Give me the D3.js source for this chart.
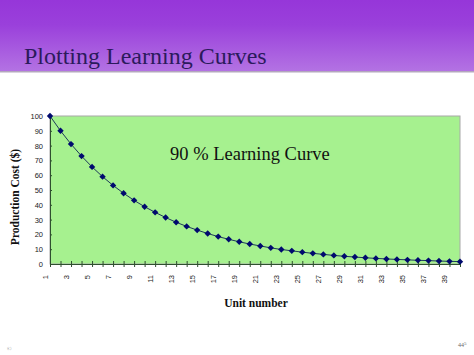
<!DOCTYPE html>
<html>
<head>
<meta charset="utf-8">
<script src="https://cdn.jsdelivr.net/npm/d3@7"></script>
<style>
body { margin: 0; background: #fff; }
svg { display: block; }
.serif { font-family: "Liberation Serif", "Times New Roman", "DejaVu Serif", serif; }
.sans { font-family: "Liberation Sans", Arial, sans-serif; }
</style>
</head>
<body>
<svg></svg>
<script>
var width = 474;
var height = 355;

// unit numbers and the cost
var units = d3.range(1, 41);
var cost = [100, 90, 81, 72.9, 65.6, 59.0, 53.1, 47.8, 43.0, 38.7,
            34.9, 31.4, 28.2, 25.4, 22.9, 20.6, 18.5, 16.7, 15.0, 13.5,
            12.2, 10.9, 9.8, 8.9, 8.0, 7.2, 6.5, 5.8, 5.2, 4.7,
            4.2, 3.8, 3.4, 3.1, 2.8, 2.5, 2.3, 2.0, 1.8, 1.6];
var yTicks = [0, 10, 20, 30, 40, 50, 60, 70, 80, 90, 100];
var xLabels = [1, 3, 5, 7, 9, 11, 13, 15, 17, 19, 21, 23, 25, 27, 29, 31, 33, 35, 37, 39];

var svg = d3.select('svg')
            .attr('width', width)
            .attr('height', height);

// slide header
var defs = svg.append('defs');
var grad = defs.append('linearGradient')
               .attr('id', 'hdr')
               .attr('x1', 0).attr('y1', 0).attr('x2', 0).attr('y2', 1);
grad.append('stop').attr('offset', '0%').attr('stop-color', '#9636d9');
grad.append('stop').attr('offset', '35%').attr('stop-color', '#9a40db');
grad.append('stop').attr('offset', '100%').attr('stop-color', '#b372e3');

svg.append('rect')
   .attr('x', 0).attr('y', 0)
   .attr('width', width).attr('height', 71)
   .attr('fill', 'url(#hdr)');
svg.append('rect')
   .attr('x', 0).attr('y', 71)
   .attr('width', width).attr('height', 1.5)
   .attr('fill', '#b3a7bd');

svg.append('text')
   .attr('class', 'serif')
   .attr('x', 24).attr('y', 64)
   .attr('font-size', 24)
   .attr('fill', '#2b1a5c')
   .text('Plotting Learning Curves');

// chart
var plotLeft = 50, plotRight = 460, plotTop = 116, plotBottom = 264;

var x = d3.scaleLinear()
          .domain([1, 40])
          .range([plotLeft, plotRight]);

var y = d3.scaleLinear()
          .domain([0, 100])
          .range([plotBottom, plotTop]);

svg.append('rect')
   .attr('x', plotLeft).attr('y', plotTop)
   .attr('width', plotRight - plotLeft).attr('height', plotBottom - plotTop)
   .attr('fill', '#a6f18f')
   .attr('stroke', '#a8a8a8')
   .attr('stroke-width', 1);

var yAxis = svg.append('g')
   .attr('transform', 'translate(' + plotLeft + ',0)')
   .call(d3.axisLeft(y).tickValues(yTicks).tickSizeInner(3).tickSizeOuter(0).tickPadding(4));
yAxis.select('.domain').attr('stroke', '#2f4f2f');
yAxis.selectAll('.tick line').attr('stroke', '#2f4f2f').attr('x2', 2);
yAxis.selectAll('text')
     .attr('class', 'sans')
     .attr('font-size', 7.5)
     .attr('fill', '#222');

var xAxis = svg.append('g')
   .attr('transform', 'translate(0,' + plotBottom + ')')
   .call(d3.axisBottom(x).tickValues(units).tickSizeInner(3).tickSizeOuter(0).tickFormat(''));
xAxis.select('.domain').attr('stroke', '#2f4f2f');
xAxis.selectAll('.tick line').attr('stroke', '#2f4f2f').attr('y1', -3);

svg.append('g')
   .selectAll('text')
   .data(xLabels)
   .enter()
   .append('text')
   .attr('class', 'sans')
   .attr('transform', d => 'translate(' + (x(d) - 5) + ',275) rotate(-90)')
   .attr('text-anchor', 'end')
   .attr('dy', '0.35em')
   .attr('font-size', 7.5)
   .attr('fill', '#222')
   .text(d => d);

var line = d3.line()
             .x((d, i) => x(units[i]))
             .y(d => y(d));

svg.append('path')
   .datum(cost)
   .attr('d', line)
   .attr('fill', 'none')
   .attr('stroke', '#1c3a5a')
   .attr('stroke-width', 1);

svg.append('g')
   .selectAll('path')
   .data(cost)
   .enter()
   .append('path')
   .attr('d', d3.symbol().type(d3.symbolDiamond2).size(26))
   .attr('transform', (d, i) => 'translate(' + x(units[i]) + ',' + y(d) + ')')
   .attr('fill', '#000a6e');

svg.append('text')
   .attr('class', 'serif')
   .attr('x', 170).attr('y', 160)
   .attr('font-size', 18.5)
   .attr('fill', '#111')
   .text('90 % Learning Curve');

svg.append('text')
   .attr('class', 'serif')
   .attr('x', 256).attr('y', 307)
   .attr('text-anchor', 'middle')
   .attr('font-weight', 'bold')
   .attr('font-size', 11.5)
   .attr('fill', '#111')
   .text('Unit number');

svg.append('text')
   .attr('class', 'serif')
   .attr('transform', 'translate(19,197) rotate(-90)')
   .attr('text-anchor', 'middle')
   .attr('font-weight', 'bold')
   .attr('font-size', 11.5)
   .attr('fill', '#111')
   .text('Production Cost ($)');

// footer
svg.append('text')
   .attr('class', 'serif')
   .attr('x', 7).attr('y', 351)
   .attr('font-size', 6)
   .attr('fill', '#777')
   .text('©');

svg.append('text')
   .attr('class', 'serif')
   .attr('x', 458).attr('y', 347)
   .attr('font-size', 6)
   .attr('fill', '#666')
   .text('44')
   .append('tspan')
   .attr('dy', -2)
   .attr('font-size', 5)
   .text('5');
</script>
</body>
</html>
